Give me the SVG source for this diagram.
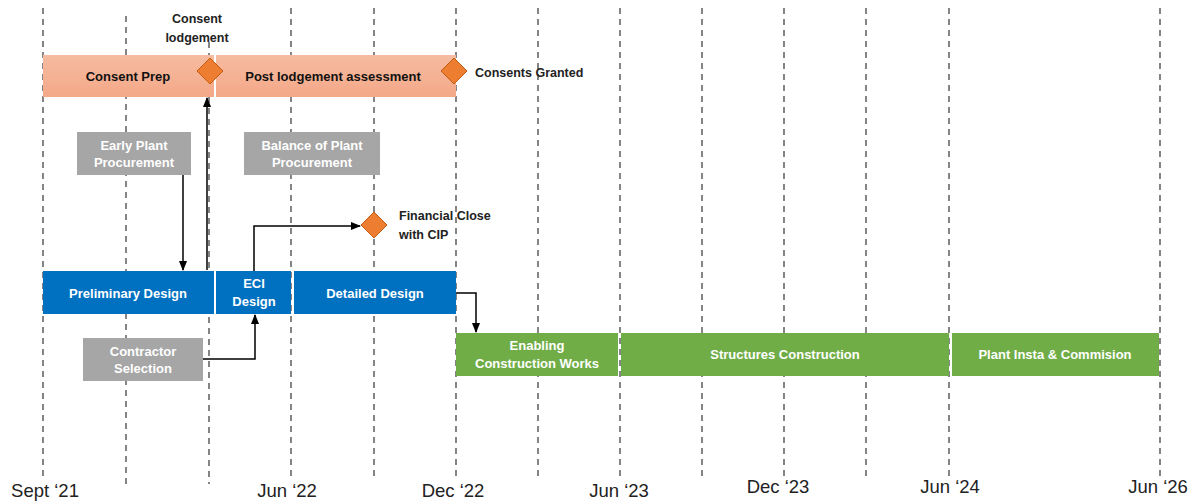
<svg xmlns="http://www.w3.org/2000/svg" width="1195" height="502" viewBox="0 0 1195 502">
<style>
.grid{stroke:#444;stroke-width:1.3;stroke-dasharray:6 5;fill:none}
.lbl{font-family:"Liberation Sans",Arial,sans-serif;font-size:18.5px;fill:#222}
.bt{font-family:"Liberation Sans",Arial,sans-serif;font-size:13px;font-weight:bold;text-anchor:middle}
.w{fill:#fff}
.k{fill:#111}
.ann{font-family:"Liberation Sans",Arial,sans-serif;font-size:12.5px;font-weight:bold;fill:#222}
.blue{fill:#0070C0}
.green{fill:#70AD47}
.gray{fill:#A6A6A6}
.dia{fill:#ED7D31;stroke:#C55A11;stroke-width:1}
.con{stroke:#000;stroke-width:1.5;fill:none}
</style>
<defs>
<linearGradient id="og" x1="0" y1="0" x2="0" y2="1">
<stop offset="0" stop-color="#F6BBA0"/>
<stop offset="1" stop-color="#F4A888"/>
</linearGradient>
<marker id="ah" viewBox="0 0 10 10" refX="9" refY="5" markerWidth="7" markerHeight="7" orient="auto-start-reverse">
<path d="M0,1 L10,5 L0,9 z" fill="#000"/>
</marker>
</defs>
<rect width="1195" height="502" fill="#fff"/>
<g id="grid">
<line class="grid" x1="43" y1="8" x2="43" y2="478"/>
<line class="grid" x1="126" y1="16" x2="126" y2="484"/>
<line class="grid" x1="209" y1="42" x2="209" y2="484"/>
<line class="grid" x1="291" y1="8" x2="291" y2="478"/>
<line class="grid" x1="374" y1="8" x2="374" y2="478"/>
<line class="grid" x1="456" y1="8" x2="456" y2="476"/>
<line class="grid" x1="538" y1="8" x2="538" y2="476"/>
<line class="grid" x1="620" y1="8" x2="620" y2="476"/>
<line class="grid" x1="702" y1="8" x2="702" y2="476"/>
<line class="grid" x1="784" y1="8" x2="784" y2="476"/>
<line class="grid" x1="866" y1="8" x2="866" y2="476"/>
<line class="grid" x1="949" y1="8" x2="949" y2="476"/>
<line class="grid" x1="1160" y1="8" x2="1160" y2="476"/>
</g>
<g id="axis-labels">
<text class="lbl" x="45" y="497" text-anchor="middle">Sept ‘21</text>
<text class="lbl" x="287" y="497" text-anchor="middle">Jun ‘22</text>
<text class="lbl" x="453" y="497" text-anchor="middle">Dec ‘22</text>
<text class="lbl" x="619" y="497" text-anchor="middle">Jun ‘23</text>
<text class="lbl" x="778" y="493" text-anchor="middle">Dec ‘23</text>
<text class="lbl" x="950" y="493" text-anchor="middle">Jun ‘24</text>
<text class="lbl" x="1158" y="493" text-anchor="middle">Jun ‘26</text>
</g>
<g id="consent-prep">
<rect x="43" y="55" width="171" height="42" fill="url(#og)"/>
<text class="bt k" x="128" y="81">Consent Prep</text>
</g>
<g id="post-lodgement">
<rect x="216" y="55" width="240" height="42" fill="url(#og)"/>
<text class="bt k" x="333" y="81">Post lodgement assessment</text>
</g>
<g id="consent-lodgement">
<path class="dia" d="M210,58 L223,71 L210,84 L197,71 z"/>
<text class="ann" x="197" y="23" text-anchor="middle">Consent</text>
<text class="ann" x="197" y="42" text-anchor="middle">lodgement</text>
</g>
<g id="consents-granted">
<path class="dia" d="M454,58 L467,71 L454,84 L441,71 z"/>
<text class="ann" x="475" y="77">Consents Granted</text>
</g>
<g id="early-plant">
<rect class="gray" x="77" y="132" width="114" height="43"/>
<text class="bt w" x="134" y="150">Early Plant</text>
<text class="bt w" x="134" y="167">Procurement</text>
</g>
<g id="balance-plant">
<rect class="gray" x="244" y="132" width="136" height="43"/>
<text class="bt w" x="312" y="150">Balance of Plant</text>
<text class="bt w" x="312" y="167">Procurement</text>
</g>
<g id="financial-close">
<path class="dia" d="M374,212 L387,225 L374,238 L361,225 z"/>
<text class="ann" x="399" y="220">Financial Close</text>
<text class="ann" x="399" y="239">with CIP</text>
</g>
<g id="preliminary-design">
<rect class="blue" x="43" y="271" width="171" height="43"/>
<text class="bt w" x="128" y="298">Preliminary Design</text>
</g>
<g id="eci-design">
<rect class="blue" x="216" y="271" width="75" height="43"/>
<text class="bt w" x="254" y="288">ECI</text>
<text class="bt w" x="254" y="306">Design</text>
</g>
<g id="detailed-design">
<rect class="blue" x="294" y="271" width="162" height="43"/>
<text class="bt w" x="375" y="298">Detailed Design</text>
</g>
<g id="contractor-selection">
<rect class="gray" x="83" y="338" width="120" height="43"/>
<text class="bt w" x="143" y="356">Contractor</text>
<text class="bt w" x="143" y="373">Selection</text>
</g>
<g id="enabling">
<rect class="green" x="456" y="333" width="162" height="43"/>
<text class="bt w" x="537" y="350">Enabling</text>
<text class="bt w" x="537" y="368">Construction Works</text>
</g>
<g id="structures">
<rect class="green" x="621" y="333" width="328" height="43"/>
<text class="bt w" x="785" y="359">Structures Construction</text>
</g>
<g id="plant-insta">
<rect class="green" x="952" y="333" width="207" height="43"/>
<text class="bt w" x="1055" y="359">Plant Insta &amp; Commision</text>
</g>
<g id="connectors">
<path class="con" d="M183,175 V270" marker-end="url(#ah)"/>
<path class="con" d="M207,270 V98" marker-end="url(#ah)"/>
<path class="con" d="M254,271 V226 H360" marker-end="url(#ah)"/>
<path class="con" d="M203,359 H255 V315" marker-end="url(#ah)"/>
<path class="con" d="M456,293 H476 V332" marker-end="url(#ah)"/>
</g>
</svg>
